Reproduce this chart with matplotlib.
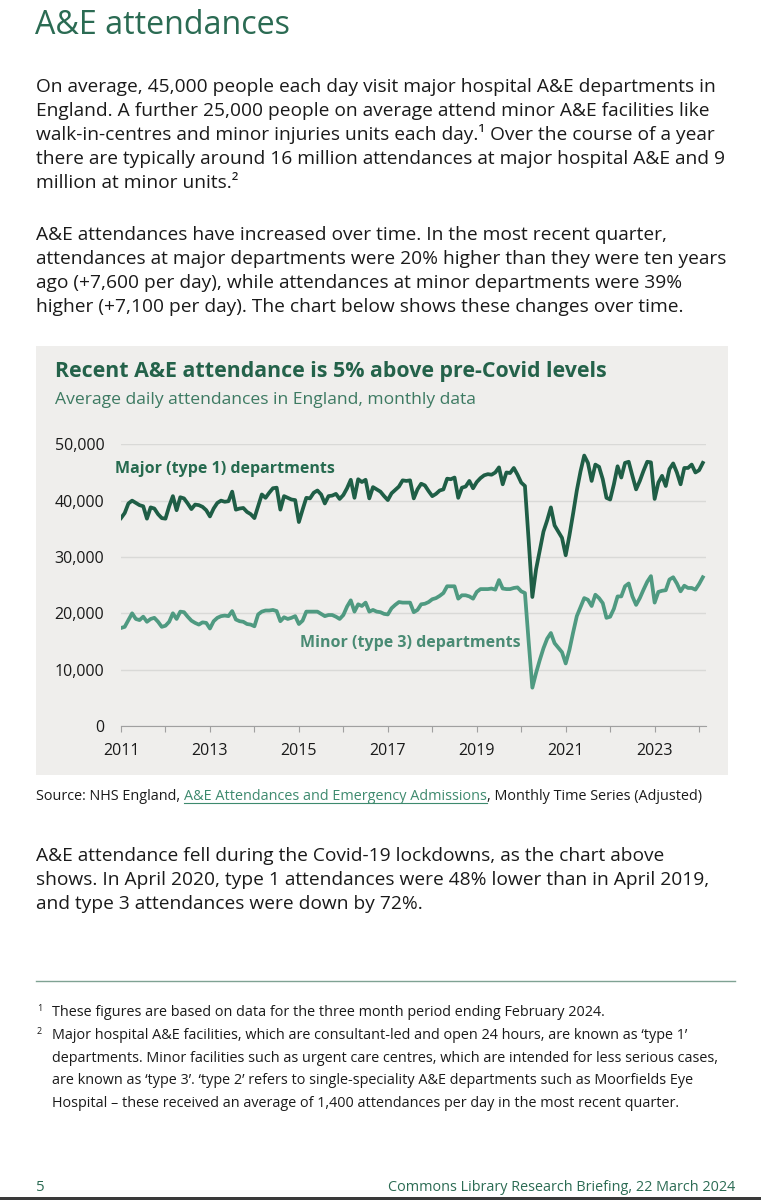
import matplotlib
matplotlib.use("Agg")
from matplotlib import pyplot as plt
from matplotlib.patches import Rectangle
import numpy as np

# monthly average daily attendances (thousands), Jan 2011 - Feb 2024
major = [
    36.9, 37.8, 39.5, 40.0, 39.6, 39.2, 39.0, 36.8, 38.8, 38.6, 37.6, 36.9,
    36.8, 39.0, 40.8, 38.3, 40.6, 40.4, 39.5, 38.5, 39.3, 39.2, 38.9, 38.3,
    37.2, 38.6, 39.6, 40.0, 39.8, 39.9, 41.6, 38.4, 38.6, 38.7, 38.0, 37.6,
    36.9, 39.0, 41.1, 40.5, 41.4, 42.2, 42.3, 38.4, 40.8, 40.5, 40.2, 40.1,
    36.2, 38.4, 40.5, 40.4, 41.4, 41.8, 41.1, 39.5, 40.8, 40.9, 41.2, 40.3,
    41.0, 42.2, 43.7, 40.5, 43.8, 43.3, 43.7, 40.4, 42.4, 42.0, 41.6, 40.8,
    40.1, 41.3, 41.9, 42.5, 43.6, 43.5, 43.6, 40.4, 42.0, 43.0, 42.7, 41.7,
    40.8, 41.2, 41.8, 42.0, 43.9, 43.8, 44.1, 40.5, 42.3, 42.5, 43.5, 42.2,
    43.3, 44.0, 44.5, 44.7, 44.6, 45.0, 45.9, 42.9, 45.0, 44.9, 45.8, 44.6,
    43.2, 42.6, 33.0, 22.9, 27.8, 31.2, 34.5, 36.5, 38.8, 35.6, 34.5, 33.4,
    30.3, 33.8, 37.7, 41.8, 45.2, 48.0, 46.7, 43.5, 46.4, 46.0, 43.8, 40.5,
    40.2, 42.9, 46.1, 44.1, 46.7, 46.9, 44.4, 42.0, 43.5, 45.3, 46.9, 46.8,
    40.3, 43.2, 44.4, 42.6, 45.6, 46.6, 45.0, 42.9, 45.8, 45.8, 46.4, 45.0,
    45.4, 46.7,
]
minor = [
    17.4, 17.6, 18.8, 20.0, 19.0, 18.8, 19.4, 18.5, 19.0, 19.2, 18.5, 17.6,
    17.8, 18.5, 20.0, 19.0, 20.3, 20.2, 19.4, 18.7, 18.3, 18.0, 18.4, 18.3,
    17.3, 18.6, 19.2, 19.5, 19.6, 19.5, 20.4, 18.9, 18.6, 18.5, 18.1, 18.0,
    17.7, 19.8, 20.3, 20.5, 20.5, 20.6, 20.4, 18.6, 19.3, 19.0, 19.2, 19.5,
    18.1, 18.7, 20.3, 20.3, 20.3, 20.3, 19.9, 19.5, 19.7, 19.7, 19.4, 19.0,
    19.7, 21.2, 22.3, 20.3, 21.6, 21.3, 21.9, 20.3, 20.6, 20.3, 20.2, 19.9,
    19.8, 20.9, 21.5, 22.0, 21.9, 21.9, 21.9, 20.2, 20.6, 21.6, 21.7, 22.0,
    22.5, 22.7, 23.1, 23.6, 24.8, 24.8, 24.8, 22.6, 23.2, 23.2, 23.0, 22.6,
    23.8, 24.3, 24.3, 24.3, 24.4, 24.2, 25.9, 24.4, 24.3, 24.3, 24.5, 24.6,
    23.9, 23.6, 15.0, 6.8, 9.4, 11.7, 13.8, 15.5, 16.5, 14.7, 13.9, 13.1,
    11.1, 13.5, 16.6, 19.5, 21.1, 22.7, 22.4, 21.3, 23.3, 22.7, 21.8, 19.2,
    19.4, 20.8, 23.0, 23.0, 24.8, 25.3, 23.0, 21.5, 22.7, 24.2, 25.6, 26.6,
    21.9, 23.8, 24.0, 24.1, 26.0, 26.4, 25.3, 23.9, 24.9, 24.5, 24.5, 24.2,
    25.2, 26.4,
]
start_year = 2011
tick_years = list(range(2011, 2025))
y_ticks = [0, 10000, 20000, 30000, 40000, 50000]

para1 = [
    "On average, 45,000 people each day visit major hospital A&E departments in",
    "England. A further 25,000 people on average attend minor A&E facilities like",
    "walk-in-centres and minor injuries units each day.\u00b9 Over the course of a year",
    "there are typically around 16 million attendances at major hospital A&E and 9",
    "million at minor units.\u00b2",
]
para2 = [
    "A&E attendances have increased over time. In the most recent quarter,",
    "attendances at major departments were 20% higher than they were ten years",
    "ago (+7,600 per day), while attendances at minor departments were 39%",
    "higher (+7,100 per day). The chart below shows these changes over time.",
]
para3 = [
    "A&E attendance fell during the Covid-19 lockdowns, as the chart above",
    "shows. In April 2020, type 1 attendances were 48% lower than in April 2019,",
    "and type 3 attendances were down by 72%.",
]
foot1 = ["These figures are based on data for the three month period ending February 2024."]
foot2 = [
    "Major hospital A&E facilities, which are consultant-led and open 24 hours, are known as \u2018type 1\u2019",
    "departments. Minor facilities such as urgent care centres, which are intended for less serious cases,",
    "are known as \u2018type 3\u2019. \u2018type 2\u2019 refers to single-speciality A&E departments such as Moorfields Eye",
    "Hospital \u2013 these received an average of 1,400 attendances per day in the most recent quarter.",
]

DARK = "#1f5e46"
LIGHT = "#4f9a81"
HEAD = "#2b6b53"
TEXT = "#1a1a1a"
BODY = "Open Sans"
BODY_SIZE = 13.8

W, H = 761, 1200
fig = plt.figure(figsize=(W / 100, H / 100), dpi=100)
fig.patch.set_facecolor("white")


def put(x, y, s, **kw):
    kw.setdefault("family", BODY)
    kw.setdefault("color", TEXT)
    kw.setdefault("va", "baseline")
    return fig.text(x / W, 1 - y / H, s, **kw)


def block(lines, x, y0, step, **kw):
    for i, s in enumerate(lines):
        put(x, y0 + i * step, s, **kw)


put(35, 34, "A&E attendances", fontsize=23.2, color=HEAD)
block(para1, 36, 92, 24, fontsize=BODY_SIZE)
block(para2, 36, 240, 24, fontsize=BODY_SIZE)

# chart panel
fig.patches.append(Rectangle((36 / W, 1 - 775 / H), (728 - 36) / W, (775 - 346) / H,
                             transform=fig.transFigure, facecolor="#efeeec",
                             edgecolor="none", zorder=-5))
put(55, 377, "Recent A&E attendance is 5% above pre-Covid levels", fontsize=15.4,
    fontweight="bold", color="#24624a")
put(55, 404, "Average daily attendances in England, monthly data", fontsize=12.6, color="#3d7a62")

ax = fig.add_axes([121 / W, 1 - 726 / H, (706 - 121) / W, (726 - 444.3) / H])
ax.set_facecolor("none")
x = start_year + np.arange(len(major)) / 12
ax.plot(x, np.array(major) * 1000, color=DARK, lw=2.7, solid_joinstyle="round", zorder=3)
ax.plot(x, np.array(minor) * 1000, color=LIGHT, lw=2.7, solid_joinstyle="round", zorder=3)
ax.set_xlim(start_year, start_year + (706 - 121) / 44.47)
ax.set_ylim(0, 50000)
ax.set_yticks(y_ticks)
ax.set_yticklabels([f"{v:,}" for v in y_ticks])
ax.set_xticks(tick_years)
ax.set_xticklabels([str(t) if t % 2 == 1 else "" for t in tick_years])
ax.grid(axis="y", color="#d9d9d7", lw=1)
ax.set_axisbelow(True)
for s in ["top", "right", "left"]:
    ax.spines[s].set_visible(False)
ax.spines["bottom"].set_color("#a0a0a0")
ax.tick_params(axis="y", length=0, pad=12, labelsize=11.5, labelcolor=TEXT)
ax.tick_params(axis="x", length=4, color="#a0a0a0", pad=8, labelsize=11.5, labelcolor=TEXT)
for lab in ax.get_xticklabels() + ax.get_yticklabels():
    lab.set_family(BODY)

put(115, 473, "Major (type 1) departments", fontsize=11.5, fontweight="bold", color="#266a4f")
put(300, 647, "Minor (type 3) departments", fontsize=11.5, fontweight="bold", color="#4a8b74")

# source line with underlined link
SRC = 10.35
src = put(36, 800, "Source: NHS England, ", fontsize=SRC)
fig.canvas.draw()
r = fig.canvas.get_renderer()
bb = src.get_window_extent(r)
link = fig.text(bb.x1 / W, 1 - 800 / H, "A&E Attendances and Emergency Admissions", fontsize=SRC,
                family=BODY, color="#3e8a6e", va="baseline")
bb2 = link.get_window_extent(r)
fig.lines.append(plt.Line2D([bb2.x0 / W, bb2.x1 / W], [1 - 803 / H] * 2, transform=fig.transFigure,
                            color="#3e8a6e", lw=0.8))
fig.text(bb2.x1 / W, 1 - 800 / H, ", Monthly Time Series (Adjusted)", fontsize=SRC,
         family=BODY, color=TEXT, va="baseline")

block(para3, 36, 861, 24, fontsize=BODY_SIZE)

fig.lines.append(plt.Line2D([36 / W, 735 / W], [1 - 981 / H] * 2, transform=fig.transFigure,
                            color="#7fa293", lw=1))
put(37, 1011, "1", fontsize=6.5)
block(foot1, 52, 1016, 23, fontsize=10.35)
put(37, 1034, "2", fontsize=6.5)
block(foot2, 52, 1039, 22.7, fontsize=10.35)

put(36, 1191, "5", fontsize=10.8, color="#2b6b53")
put(735, 1191, "Commons Library Research Briefing, 22 March 2024", fontsize=10.4,
    color="#2b6b53", ha="right")
fig.patches.append(Rectangle((0, 0), 1, 3 / H, transform=fig.transFigure,
                             facecolor="#3a3a3a", edgecolor="none"))

fig.savefig("out.png", dpi=100)
